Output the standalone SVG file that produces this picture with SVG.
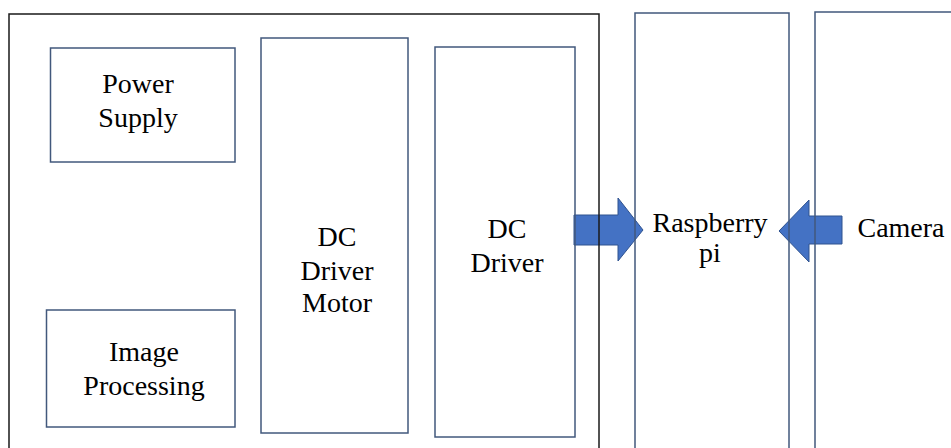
<svg xmlns="http://www.w3.org/2000/svg" width="951" height="448" viewBox="0 0 951 448">
<style>
.box{fill:none;stroke:#42587C;stroke-width:1.5}
.outer{fill:none;stroke:#1a1a1a;stroke-width:1.5}
.arrow{fill:#4472C4;stroke:#2F528F;stroke-width:1}
text{font-size:28px;fill:#000;text-anchor:middle}
</style>
<rect width="951" height="448" fill="#fff"/>
<g id="connectors">
<polygon class="arrow" points="574,215 618,215 618,198 643,230 618,261 618,245 574,245"/>
<polygon class="arrow" points="842,216 809,216 809,200 779,231 809,262 809,244 842,244"/>
</g>
<g id="outer"><rect class="outer" x="9" y="14" width="590" height="450"/></g>
<g font-family="Liberation Serif, Tinos, Times New Roman, Noto Serif, serif">
<g id="power-supply"><rect class="box" x="50.5" y="48" width="184.5" height="114"/>
<text x="138" y="93">Power</text><text x="138" y="127">Supply</text></g>
<g id="image-processing"><rect class="box" x="46.5" y="310" width="188.5" height="117"/>
<text x="144" y="361">Image</text><text x="144" y="395">Processing</text></g>
<g id="dc-driver-motor"><rect class="box" x="261" y="38" width="147" height="395"/>
<text x="337" y="246">DC</text><text x="337" y="280">Driver</text><text x="337" y="312">Motor</text></g>
<g id="dc-driver"><rect class="box" x="435" y="47" width="140" height="390"/>
<text x="507" y="238">DC</text><text x="507" y="272">Driver</text></g>
<g id="raspberry-pi"><rect class="box" x="635" y="13" width="154" height="450"/>
<text x="710" y="232">Raspberry</text><text x="710" y="262">pi</text></g>
<g id="camera"><rect class="box" x="815" y="12" width="150" height="450"/>
<text x="901" y="237">Camera</text></g>
</g>
</svg>
